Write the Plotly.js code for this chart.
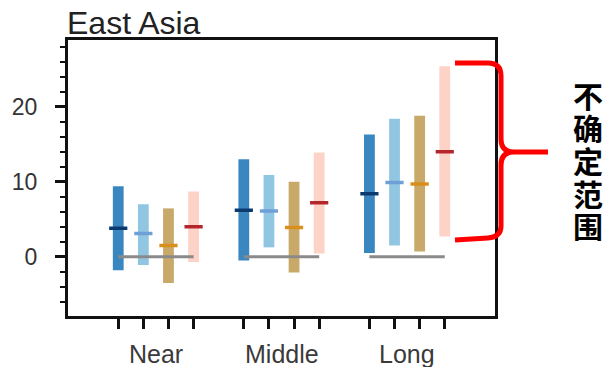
<!DOCTYPE html>
<html>
<head>
<meta charset="utf-8">
<script src="https://cdn.plot.ly/plotly-3.0.1.min.js"></script>
<style>html,body{margin:0;padding:0;background:#fff;}#chart{width:604px;height:367px;}</style>
</head>
<body>
<div id="chart"></div>
<script>
const groups = ["Near", "Middle", "Long"];
const groupCenters = [2.5, 7.5, 12.5];
const seriesNames = ["S1", "S2", "S3", "S4"];
const s1Low = [-1.8, -0.5, 0.5];
const s1High = [9.4, 13.0, 16.3];
const s1Med = [3.8, 6.2, 8.4];
const s2Low = [-1.1, 1.25, 1.5];
const s2High = [7.0, 10.9, 18.4];
const s2Med = [3.1, 6.1, 9.9];
const s3Low = [-3.5, -2.1, 0.7];
const s3High = [6.45, 10.0, 18.8];
const s3Med = [1.5, 3.9, 9.7];
const s4Low = [-0.7, 0.45, 2.7];
const s4High = [8.7, 13.9, 25.4];
const s4Med = [4.0, 7.2, 14.0];
const yTickVals = [0, 10, 20];
const yTickText = ["0", "10", "20"];
const sideChars = ["不", "确", "定", "范", "围"];

const lows = [s1Low, s2Low, s3Low, s4Low];
const highs = [s1High, s2High, s3High, s4High];
const meds = [s1Med, s2Med, s3Med, s4Med];
const barColors = ["#3a87c0", "#91c6e2", "#c8a96a", "#fdd3c8"];
const medColors = ["#0b3a70", "#6e9fd6", "#d98f1e", "#b5252c"];

function xpos(g, s) { return 1 + g * 5 + s; }

const traces = [];
groups.forEach((g, gi) => {
  traces.push({
    type: "scatter", mode: "lines",
    x: [xpos(gi, 0), xpos(gi, 3)], y: [0, 0],
    line: {color: "#8a8a8a", width: 3},
    hoverinfo: "skip", showlegend: false
  });
});
for (let s = 0; s < 4; s++) {
  traces.push({
    type: "bar",
    name: seriesNames[s],
    x: groups.map((g, gi) => xpos(gi, s)),
    y: highs[s].map((h, i) => h - lows[s][i]),
    base: lows[s],
    width: 0.43,
    marker: {color: barColors[s], line: {width: 0}},
    showlegend: false
  });
}
for (let s = 0; s < 4; s++) {
  traces.push({
    type: "scatter", mode: "markers",
    x: groups.map((g, gi) => xpos(gi, s)),
    y: meds[s],
    marker: {symbol: "line-ew", size: 13, line: {width: 3.5, color: medColors[s]}},
    showlegend: false
  });
}

const W = 604, H = 367, ml = 68, mr = 109, mt = 40, mb = 51;
const pw = W - ml - mr, ph = H - mt - mb;
const px = v => (v - ml) / pw;
const py = v => (H - mb - v) / ph;

const bracketPts = [
  ["M", 455, 63], ["L", 488, 63], ["Q", 501, 63, 501, 76], ["L", 501, 139],
  ["Q", 501, 152, 514, 152], ["L", 548, 152],
  ["M", 514, 152], ["Q", 501, 152, 501, 165], ["L", 501, 226],
  ["Q", 501, 237, 488, 238], ["L", 455, 240]
];
const path = bracketPts.map(p => {
  const cmd = p[0];
  const nums = [];
  for (let i = 1; i < p.length; i += 2) {
    nums.push(px(p[i]).toFixed(4) + "," + py(p[i + 1]).toFixed(4));
  }
  return cmd + nums.join(" ");
}).join(" ");

const annotations = [];
groups.forEach((g, gi) => {
  annotations.push({
    x: groupCenters[gi], xref: "x", y: py(354), yref: "paper",
    text: g, showarrow: false, xanchor: "center", yanchor: "middle",
    font: {family: "Liberation Sans, Arial, sans-serif", size: 25, color: "#3a3a3a"}
  });
});
annotations.push({
  x: 0, xref: "paper", y: py(23), yref: "paper", text: "East Asia",
  showarrow: false, xanchor: "left", yanchor: "middle", xshift: -3,
  font: {family: "Liberation Sans, Arial, sans-serif", size: 32, color: "#222"}
});
const charY = [95, 127.5, 160, 192.5, 225];
sideChars.forEach((c, i) => {
  annotations.push({
    x: px(588), xref: "paper", y: py(charY[i]), yref: "paper", text: "<b>" + c + "</b>",
    showarrow: false, xanchor: "center", yanchor: "middle", height: 32,
    font: {family: "Noto Sans CJK SC, sans-serif", size: 30, color: "#000"}
  });
});

const layout = {
  width: W, height: H,
  margin: {l: ml, r: mr, t: mt, b: mb, pad: 0},
  paper_bgcolor: "#fff", plot_bgcolor: "#fff",
  showlegend: false,
  barmode: "overlay",
  xaxis: {
    range: [-1, 16], showgrid: false, zeroline: false,
    showline: true, mirror: true, linecolor: "#111", linewidth: 3,
    tickvals: [1, 2, 3, 4, 6, 7, 8, 9, 11, 12, 13, 14],
    ticktext: ["", "", "", "", "", "", "", "", "", "", "", ""],
    ticks: "outside", ticklen: 10, tickwidth: 3, tickcolor: "#111",
    showticklabels: false, fixedrange: true
  },
  yaxis: {
    range: [-7.9, 28.9], showgrid: false, zeroline: false,
    showline: true, mirror: true, linecolor: "#111", linewidth: 3,
    tickvals: yTickVals, ticktext: yTickText,
    ticks: "outside", ticklen: 10, tickwidth: 3, tickcolor: "#111",
    ticklabelstandoff: 13,
    tickfont: {family: "Liberation Sans, Arial, sans-serif", size: 23, color: "#333"},
    minor: {tickmode: "linear", tick0: 0, dtick: 2, ticks: "outside", ticklen: 5, tickwidth: 2, tickcolor: "#111"},
    fixedrange: true
  },
  shapes: [{
    type: "path", xref: "paper", yref: "paper", path: path,
    line: {color: "#ff0000", width: 5}, fillcolor: "rgba(0,0,0,0)"
  }],
  annotations: annotations
};

Plotly.newPlot("chart", traces, layout, {displayModeBar: false, staticPlot: true});
</script>
</body>
</html>
